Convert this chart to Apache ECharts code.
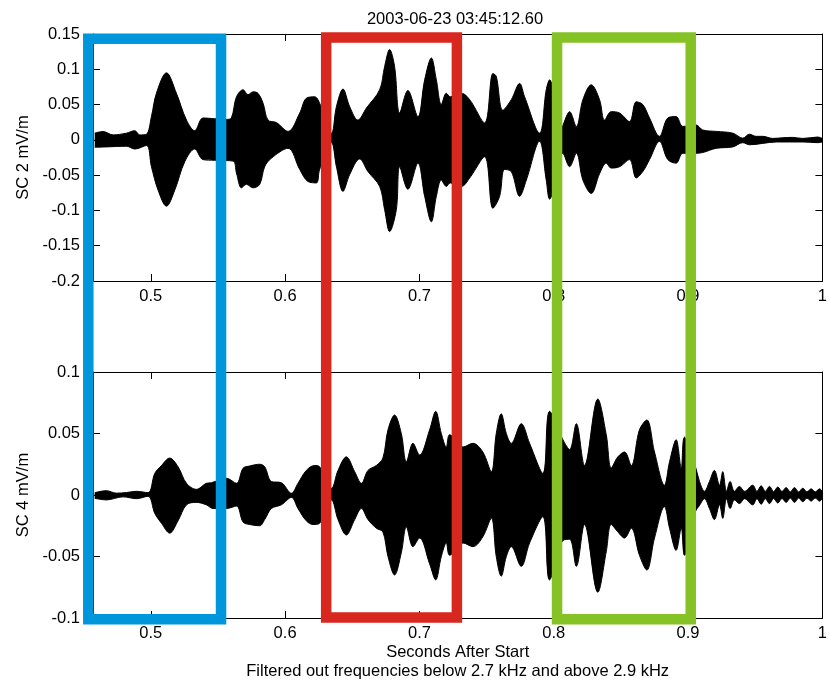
<!DOCTYPE html>
<html>
<head>
<meta charset="utf-8">
<script src="https://cdn.jsdelivr.net/npm/echarts@6/dist/echarts.min.js"></script>
<style>
html,body{margin:0;padding:0;background:#fff;}
#chart{width:830px;height:686px;}
</style>
</head>
<body>
<div id="chart"></div>
<script>
// ---- Data (envelopes) ----
const chartTitle = '2003-06-23 03:45:12.60';
const xName = 'Seconds After Start\nFiltered out frequencies below 2.7 kHz and above 2.9 kHz';
const yName2 = 'SC 2 mV/m';
const yName4 = 'SC 4 mV/m';
const xTicks = [0.5, 0.6, 0.7, 0.8, 0.9, 1];
const X_MIN = 0.457, X_MAX = 1;

const sc2Upper = [[0.4583,0.0095],[0.4645,0.0118],[0.4719,0.007],[0.4819,0.0095],[0.4881,0.013],[0.4918,0.007],[0.4968,0.008],[0.5005,0.033],[0.5042,0.066],[0.5117,0.095],[0.5191,0.066],[0.5266,0.028],[0.5327,0.013],[0.5389,0.031],[0.5476,0.030],[0.5563,0.029],[0.5600,0.031],[0.5638,0.061],[0.5687,0.071],[0.5724,0.064],[0.5761,0.068],[0.5798,0.066],[0.5836,0.052],[0.5873,0.028],[0.5935,0.0245],[0.6022,0.012],[0.6109,0.038],[0.6158,0.059],[0.6220,0.061],[0.6257,0.052],[0.6345,0.0095],[0.6382,0.047],[0.6431,0.072],[0.6481,0.047],[0.6542,0.028],[0.6605,0.045],[0.6704,0.071],[0.6741,0.104],[0.6778,0.128],[0.6815,0.104],[0.6853,0.038],[0.6914,0.070],[0.6989,0.033],[0.7039,0.085],[0.7089,0.116],[0.7126,0.085],[0.7163,0.050],[0.7200,0.066],[0.7230,0.061],[0.7312,0.066],[0.7374,0.057],[0.7485,0.024],[0.7547,0.094],[0.7572,0.090],[0.7621,0.042],[0.7684,0.057],[0.7746,0.080],[0.7783,0.061],[0.7894,0.0095],[0.7944,0.071],[0.7969,0.085],[0.8056,0.017],[0.8118,0.040],[0.8168,0.019],[0.8217,0.057],[0.8279,0.078],[0.8341,0.057],[0.8378,0.028],[0.8428,0.040],[0.8490,0.038],[0.8564,0.026],[0.8614,0.054],[0.8663,0.050],[0.8713,0.031],[0.8787,0.005],[0.8849,0.031],[0.8911,0.033],[0.8961,0.019],[0.9060,0.021],[0.9109,0.014],[0.9209,0.012],[0.9333,0.0095],[0.9407,0.0024],[0.9457,0.008],[0.9506,0.005],[0.9556,0.005],[0.9630,0.002],[0.9705,0.003],[0.9779,0.0035],[0.9854,0.002],[0.9965,0.004],[1.0,0.002]];

const sc2Lower = [[0.4583,-0.0104],[0.4670,-0.010],[0.4819,-0.009],[0.4881,-0.013],[0.4968,-0.008],[0.5005,-0.038],[0.5054,-0.071],[0.5117,-0.094],[0.5179,-0.071],[0.5253,-0.031],[0.5327,-0.013],[0.5389,-0.028],[0.5476,-0.029],[0.5612,-0.030],[0.5638,-0.047],[0.5675,-0.068],[0.5712,-0.063],[0.5761,-0.068],[0.5811,-0.063],[0.5848,-0.038],[0.5898,-0.026],[0.6022,-0.012],[0.6109,-0.042],[0.6170,-0.059],[0.6233,-0.061],[0.6257,-0.042],[0.6345,-0.004],[0.6382,-0.038],[0.6431,-0.073],[0.6481,-0.049],[0.6555,-0.027],[0.6617,-0.045],[0.6704,-0.066],[0.6741,-0.099],[0.6778,-0.130],[0.6828,-0.099],[0.6853,-0.038],[0.6914,-0.070],[0.6989,-0.033],[0.7039,-0.080],[0.7089,-0.116],[0.7126,-0.080],[0.7163,-0.057],[0.7200,-0.066],[0.7230,-0.061],[0.7312,-0.066],[0.7374,-0.054],[0.7485,-0.024],[0.7547,-0.097],[0.7597,-0.080],[0.7634,-0.042],[0.7684,-0.045],[0.7746,-0.080],[0.7796,-0.057],[0.7894,-0.002],[0.7944,-0.057],[0.7969,-0.084],[0.8068,-0.019],[0.8118,-0.038],[0.8168,-0.019],[0.8217,-0.057],[0.8279,-0.076],[0.8341,-0.048],[0.8391,-0.033],[0.8428,-0.040],[0.8490,-0.038],[0.8564,-0.028],[0.8614,-0.054],[0.8663,-0.045],[0.8713,-0.028],[0.8787,-0.002],[0.8849,-0.028],[0.8911,-0.033],[0.8961,-0.019],[0.9060,-0.019],[0.9109,-0.018],[0.9209,-0.012],[0.9333,-0.010],[0.9407,-0.004],[0.9457,-0.007],[0.9556,-0.005],[0.9656,-0.003],[0.9854,-0.003],[0.9965,-0.004],[1.0,-0.003]];

const sc4Upper = [[0.4583,0.0019],[0.4670,0.0035],[0.4744,0.0015],[0.4819,0.002],[0.4893,0.003],[0.4980,0.0019],[0.5030,0.0176],[0.5080,0.024],[0.5141,0.030],[0.5203,0.023],[0.5266,0.0095],[0.5340,0.0046],[0.5414,0.0095],[0.5452,0.010],[0.5563,0.0136],[0.5638,0.0095],[0.5687,0.0217],[0.5737,0.0236],[0.5811,0.025],[0.5848,0.023],[0.5898,0.011],[0.5972,0.010],[0.6047,0.0014],[0.6096,0.0095],[0.6158,0.020],[0.6220,0.024],[0.6257,0.023],[0.6345,0.0054],[0.6394,0.020],[0.6456,0.031],[0.6518,0.019],[0.6568,0.0095],[0.6617,0.020],[0.6679,0.024],[0.6728,0.030],[0.6766,0.053],[0.6815,0.065],[0.6865,0.050],[0.6903,0.027],[0.6952,0.042],[0.7001,0.0325],[0.7076,0.053],[0.7121,0.068],[0.7163,0.050],[0.7200,0.039],[0.7225,0.049],[0.7324,0.039],[0.7398,0.042],[0.7472,0.035],[0.7535,0.019],[0.7572,0.050],[0.7609,0.066],[0.7647,0.050],[0.7684,0.042],[0.7758,0.058],[0.7820,0.042],[0.7919,0.0176],[0.7969,0.068],[0.8068,0.045],[0.8118,0.037],[0.8168,0.058],[0.8229,0.024],[0.8328,0.078],[0.8391,0.049],[0.8428,0.022],[0.8477,0.031],[0.8527,0.035],[0.8577,0.024],[0.8638,0.053],[0.8693,0.061],[0.8750,0.035],[0.8824,0.008],[0.8862,0.027],[0.8911,0.045],[0.8949,0.022],[0.8973,0.047],[0.9055,0.023],[0.9085,0.011],[0.9122,0.003],[0.9159,0.011],[0.9196,0.020],[0.9234,0.008],[0.9258,0.019],[0.9286,0.003],[0.9313,0.011],[0.9345,0.003],[0.9382,0.007],[0.9420,0.003],[0.9481,0.008],[0.9513,0.003],[0.9544,0.0075],[0.9575,0.003],[0.9606,0.007],[0.9637,0.0028],[0.9668,0.0065],[0.9699,0.0028],[0.9730,0.006],[0.9761,0.0025],[0.9792,0.006],[0.9823,0.0025],[0.9854,0.0055],[0.9885,0.0025],[0.9916,0.005],[0.9947,0.0025],[0.9978,0.005],[1.0,0.003]];

const sc4Lower = [[0.4583,-0.0027],[0.4670,-0.004],[0.4794,-0.0015],[0.4893,-0.003],[0.4980,-0.001],[0.5030,-0.015],[0.5080,-0.023],[0.5141,-0.031],[0.5203,-0.021],[0.5266,-0.008],[0.5340,-0.006],[0.5414,-0.008],[0.5464,-0.011],[0.5563,-0.011],[0.5638,-0.009],[0.5687,-0.022],[0.5737,-0.024],[0.5811,-0.025],[0.5848,-0.020],[0.5898,-0.011],[0.5972,-0.008],[0.6047,-0.002],[0.6096,-0.011],[0.6158,-0.021],[0.6208,-0.024],[0.6257,-0.023],[0.6345,-0.004],[0.6394,-0.020],[0.6456,-0.0325],[0.6518,-0.020],[0.6568,-0.011],[0.6617,-0.020],[0.6679,-0.027],[0.6728,-0.030],[0.6766,-0.050],[0.6815,-0.065],[0.6865,-0.047],[0.6903,-0.026],[0.6952,-0.042],[0.7001,-0.035],[0.7076,-0.056],[0.7121,-0.069],[0.7163,-0.050],[0.7200,-0.039],[0.7225,-0.049],[0.7324,-0.039],[0.7398,-0.042],[0.7472,-0.034],[0.7535,-0.019],[0.7572,-0.050],[0.7609,-0.066],[0.7647,-0.050],[0.7684,-0.042],[0.7758,-0.058],[0.7820,-0.039],[0.7919,-0.0176],[0.7969,-0.069],[0.8068,-0.037],[0.8118,-0.036],[0.8168,-0.058],[0.8229,-0.024],[0.8328,-0.079],[0.8391,-0.046],[0.8428,-0.024],[0.8477,-0.030],[0.8527,-0.035],[0.8577,-0.027],[0.8638,-0.049],[0.8693,-0.061],[0.8750,-0.035],[0.8824,-0.0095],[0.8862,-0.027],[0.8911,-0.045],[0.8949,-0.027],[0.8973,-0.049],[0.9055,-0.0136],[0.9085,-0.0085],[0.9122,-0.003],[0.9159,-0.011],[0.9196,-0.020],[0.9234,-0.008],[0.9258,-0.019],[0.9286,-0.003],[0.9313,-0.011],[0.9345,-0.004],[0.9382,-0.007],[0.9420,-0.003],[0.9481,-0.008],[0.9513,-0.003],[0.9544,-0.0075],[0.9575,-0.003],[0.9606,-0.007],[0.9637,-0.0028],[0.9668,-0.0065],[0.9699,-0.0028],[0.9730,-0.006],[0.9761,-0.0025],[0.9792,-0.006],[0.9823,-0.0025],[0.9854,-0.0055],[0.9885,-0.0025],[0.9916,-0.005],[0.9947,-0.0025],[0.9978,-0.005],[1.0,-0.003]];

// highlight boxes (x in seconds; y as fraction of the full two-panel span)
const boxLeft   = [0.4535, 0.6302, 0.8017];
const boxRight  = [0.5521, 0.7273, 0.9010];
const boxBottom = [-0.002, 0.001, -0.002];
const boxTop    = [0.992, 0.994, 0.994];
const boxColors = ['#0096db', '#d8271e', '#85c226'];

// ---- Chart ----
const FONT = "'Liberation Sans', Arial, Helvetica, sans-serif";
const FS = 16.5;
const chart = echarts.init(document.getElementById('chart'), null, {renderer: 'canvas'});

function xAx(grid, pos, withLabels, extra) {
  return Object.assign({
    type: 'value', gridIndex: grid, position: pos, min: X_MIN, max: X_MAX,
    axisLine: {show: true, onZero: false, lineStyle: {color: '#000', width: 1}},
    axisTick: {show: true, inside: true, length: 7, customValues: xTicks, lineStyle: {color: '#000'}},
    axisLabel: {show: withLabels, customValues: xTicks, color: '#000', fontSize: FS, fontFamily: FONT, margin: 7},
    splitLine: {show: false}
  }, extra || {});
}
function yAx(grid, pos, min, max, withLabels, extra) {
  return Object.assign({
    type: 'value', gridIndex: grid, position: pos, min: min, max: max, interval: 0.05,
    axisLine: {show: true, onZero: false, lineStyle: {color: '#000', width: 1}},
    axisTick: {show: true, inside: true, length: 7, lineStyle: {color: '#000'}},
    axisLabel: {show: withLabels, color: '#000', fontSize: FS, fontFamily: FONT, margin: 13},
    splitLine: {show: false}
  }, extra || {});
}
const nameStyle = {color: '#000', fontSize: FS, fontFamily: FONT};

function env(data, xi, yi, origin) {
  return {
    type: 'line', xAxisIndex: xi, yAxisIndex: yi, data: data, showSymbol: false, symbol: 'none',
    smooth: 0.35, lineStyle: {color: '#000', width: 1}, areaStyle: {color: '#000', opacity: 1, origin: origin},
    z: 2, silent: true
  };
}

const option = {
  animation: false,
  backgroundColor: '#fff',
  title: {
    text: chartTitle, left: 450, textAlign: 'center', top: 6,
    textStyle: {color: '#000', fontSize: FS, fontWeight: 'normal', fontFamily: FONT}
  },
  grid: [
    {left: 93, right: 6, top: 34, height: 247},
    {left: 93, right: 6, top: 372, height: 246},
    {left: 93, right: 6, top: 34, height: 584}
  ],
  xAxis: [
    xAx(0, 'bottom', true),
    xAx(0, 'top', false),
    xAx(1, 'bottom', true, {name: xName, nameLocation: 'middle', nameGap: 25,
      nameTextStyle: Object.assign({lineHeight: 19}, nameStyle)}),
    xAx(1, 'top', false),
    {type: 'value', gridIndex: 2, min: X_MIN, max: X_MAX, show: false}
  ],
  yAxis: [
    yAx(0, 'left', -0.2, 0.15, true, {name: yName2, nameLocation: 'middle', nameGap: 55, nameTextStyle: nameStyle}),
    yAx(0, 'right', -0.2, 0.15, false),
    yAx(1, 'left', -0.1, 0.1, true, {name: yName4, nameLocation: 'middle', nameGap: 55, nameTextStyle: nameStyle}),
    yAx(1, 'right', -0.1, 0.1, false),
    {type: 'value', gridIndex: 2, min: 0, max: 1, show: false}
  ],
  series: [
    env(sc2Upper, 0, 0, -0.002),
    env(sc2Lower, 0, 0, 0.002),
    env(sc4Upper, 2, 2, -0.001),
    env(sc4Lower, 2, 2, 0.001),
    {
      type: 'custom', xAxisIndex: 4, yAxisIndex: 4, z: 10, silent: true, clip: false,
      data: boxLeft.map((v, i) => [v, boxRight[i], boxBottom[i], boxTop[i]]),
      encode: {x: [0, 1], y: [2, 3]},
      renderItem: function (params, api) {
        const p0 = api.coord([api.value(0), api.value(3)]);
        const p1 = api.coord([api.value(1), api.value(2)]);
        return {
          type: 'rect',
          shape: {x: p0[0], y: p0[1], width: p1[0] - p0[0], height: p1[1] - p0[1]},
          style: {fill: null, stroke: boxColors[params.dataIndex], lineWidth: 10.5}
        };
      }
    }
  ]
};
chart.setOption(option);
</script>
</body>
</html>
